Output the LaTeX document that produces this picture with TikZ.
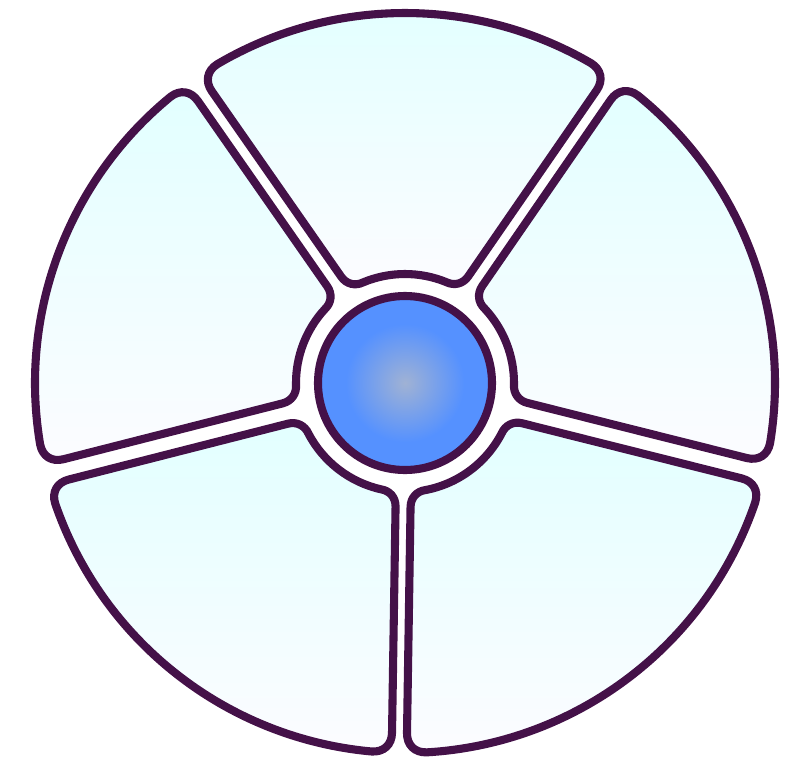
\documentclass[tikz,border=0pt]{standalone}
\usepackage{tikz}
\usetikzlibrary{
    calc,                             % puntos intermedios ($(a)!2mm!(b)$)
    backgrounds
}
\definecolor{rand_lila}{RGB}{68,17,72}
\definecolor{cian_claro}{RGB}{226,255,255}
\definecolor{blanco_azul}{RGB}{252,252,255}
\definecolor{azul_kern}{RGB}{85,145,255}
\definecolor{gris_kern}{RGB}{160,178,212}
\pgfdeclareradialshading{kernsombra}{\pgfpoint{0bp}{0bp}}{%
    color(0bp)=(gris_kern); color(17bp)=(azul_kern); color(50bp)=(azul_kern)}
\tikzset{
    sektor/.style={
        draw=rand_lila, line width=2.3pt,
        top color=cian_claro, bottom color=blanco_azul
    },
    kern/.style={
        draw=rand_lila, line width=2.3pt,
        shading=kernsombra
    }
}

\begin{document}
\begin{tikzpicture}[x=0.01cm, y=0.01cm]
        \useasboundingbox (-405,-383) rectangle (380,383);

        % radios exterior / interior
        \def\Ro{370}
        \def\Ri{109}

        % sectores: angulo inicial / final / medio hueco inicial / final
        \foreach \ga/\gb/\ha/\hb in {345.9/415.4/10.5/8.5, 55.4/124.9/8.5/8.5,
                                     124.9/194.3/8.5/10.5, 194.3/269.1/10.5/7.5,
                                     269.1/345.9/7.5/10.5} {
            \pgfmathsetmacro\ao{\ga+asin(\ha/\Ro)}
            \pgfmathsetmacro\bo{\gb-asin(\hb/\Ro)}
            \pgfmathsetmacro\ai{\ga+asin(\ha/\Ri)}
            \pgfmathsetmacro\bi{\gb-asin(\hb/\Ri)}
            \pgfmathsetmacro\dao{20/\Ro*180/pi}
            \pgfmathsetmacro\dai{15/\Ri*180/pi}
            \pgfmathsetmacro\aoo{\ao+\dao}
            \pgfmathsetmacro\boo{\bo-\dao}
            \pgfmathsetmacro\aii{\ai+\dai}
            \pgfmathsetmacro\bii{\bi-\dai}

            % esquinas
            \coordinate (p1) at (\ao:\Ro);
            \coordinate (p2) at (\bo:\Ro);
            \coordinate (p3) at (\bi:\Ri);
            \coordinate (p4) at (\ai:\Ri);
            % puntos de redondeo
            \coordinate (a1) at ($(p1)!0.2cm!(p4)$);
            \coordinate (b1) at (\aoo:\Ro);
            \coordinate (a2) at (\boo:\Ro);
            \coordinate (b2) at ($(p2)!0.2cm!(p3)$);
            \coordinate (a3) at ($(p3)!0.15cm!(p2)$);
            \coordinate (b3) at (\bii:\Ri);
            \coordinate (a4) at (\aii:\Ri);
            \coordinate (b4) at ($(p4)!0.15cm!(p1)$);

            \draw[sektor] (a1) .. controls ($(a1)!.6!(p1)$) and ($(b1)!.6!(p1)$) .. (b1)
                arc[start angle=\aoo, end angle=\boo, radius=\Ro]
                .. controls ($(a2)!.6!(p2)$) and ($(b2)!.6!(p2)$) .. (b2)
                -- (a3) .. controls ($(a3)!.6!(p3)$) and ($(b3)!.6!(p3)$) .. (b3)
                arc[start angle=\bii, end angle=\aii, radius=\Ri]
                .. controls ($(a4)!.6!(p4)$) and ($(b4)!.6!(p4)$) .. (b4)
                -- cycle;
        }

        % circulo central
        \draw[kern] (0,0) circle[radius=87];
    \end{tikzpicture}
\end{document}
